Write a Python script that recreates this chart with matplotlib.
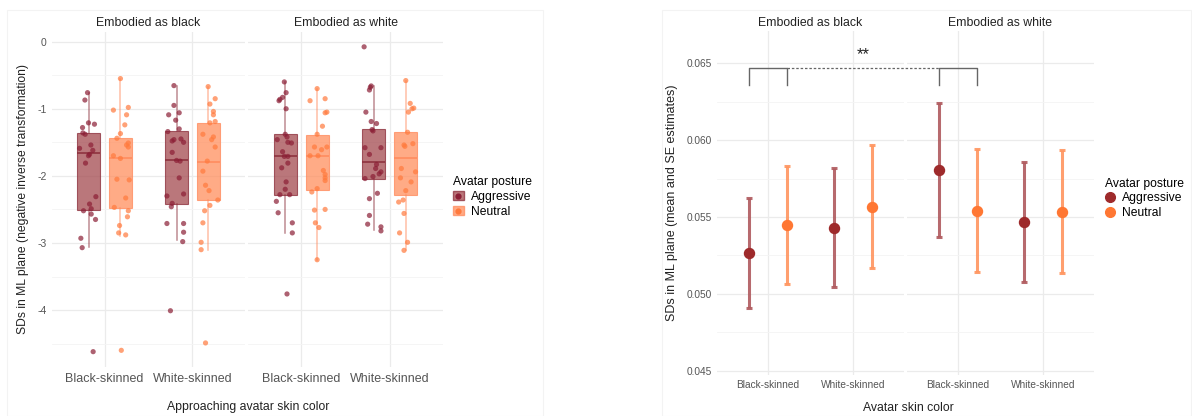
import matplotlib
matplotlib.use('Agg')
import matplotlib.pyplot as plt
from matplotlib.patches import Patch, Rectangle
from matplotlib.lines import Line2D

plt.rcParams['font.family'] = ['Liberation Sans', 'DejaVu Sans']

# ---------------- data ----------------
facets = ["Embodied as black", "Embodied as white"]
skin = ["Black-skinned", "White-skinned"]
postures = ["Aggressive", "Neutral"]

# Left panel: individual values (negative inverse transformation) and jitter offsets
eb_bs_agg = [-0.76, -0.87, -1.28, -1.21, -1.23, -1.36, -1.38, -1.59, -1.54, -1.62, -1.68,
             -1.70, -1.81, -2.31, -2.42, -2.52, -2.49, -2.57, -2.65, -2.93, -3.07, -4.62]
eb_bs_agg_jit = [-0.015, -0.045, -0.072, -0.004, 0.064, -0.068, -0.042, -0.106, 0.023, 0.045, 0.008,
                 -0.004, -0.038, 0.08, 0.008, -0.061, 0.027, 0.027, 0.076, -0.091, -0.076, 0.049]
eb_bs_neu = [-0.55, -1.02, -0.98, -1.09, -1.24, -1.37, -1.44, -1.51, -1.54, -1.57, -1.70,
             -1.74, -2.05, -2.06, -2.33, -2.47, -2.52, -2.61, -2.74, -2.85, -2.88, -4.60]
eb_bs_neu_jit = [0, -0.08, 0.09, 0.07, 0.05, 0, -0.04, 0.09, 0.07, 0.09, -0.08,
                 0, -0.04, 0.10, 0.06, -0.07, 0.09, 0.08, -0.01, -0.02, 0.06, 0.01]
eb_ws_agg = [-0.655, -0.95, -1.09, -1.06, -1.17, -1.30, -1.34, -1.46, -1.48, -1.45, -1.50, -1.65,
             -1.77, -1.78, -2.03, -2.30, -2.27, -2.41, -2.46, -2.71, -2.71, -2.84, -2.98, -4.01]
eb_ws_agg_jit = [-0.03, -0.03, -0.09, 0.03, -0.01, 0.03, -0.10, -0.03, -0.05, 0.05, 0.08, -0.05,
                 0.00, 0.04, 0.03, -0.11, 0.08, -0.05, -0.06, -0.11, 0.08, 0.08, 0.07, -0.07]
eb_ws_neu = [-0.67, -0.85, -0.93, -1.04, -1.09, -1.19, -1.21, -1.38, -1.42, -1.46, -1.57,
             -1.78, -1.93, -2.14, -2.22, -2.36, -2.44, -2.52, -2.70, -2.99, -3.10, -4.49]
eb_ws_neu_jit = [0.00, 0.08, 0.02, 0.06, 0.06, 0.08, 0.02, -0.06, 0.06, 0.04, 0.08,
                 -0.01, -0.06, -0.03, 0.01, 0.11, 0.02, -0.04, -0.06, -0.08, -0.08, -0.03]
ew_bs_agg = [-0.60, -0.76, -0.83, -0.88, -0.86, -1.00, -1.38, -1.46, -1.42, -1.50, -1.51, -1.71, -1.71,
             -1.64, -1.81, -1.88, -2.09, -2.20, -2.28, -2.28, -2.38, -2.55, -2.70, -2.85, -3.76]
ew_bs_agg_jit = [-0.01, 0.01, -0.03, -0.07, -0.06, 0.01, 0.00, -0.09, 0.02, 0.03, 0.07, 0.03, -0.01,
                 -0.03, 0.03, -0.04, 0.01, 0.00, -0.06, 0.05, -0.10, -0.08, 0.08, 0.08, 0.02]
ew_bs_neu = [-0.70, -0.88, -0.85, -1.06, -1.05, -1.26, -1.38, -1.57, -1.57, -1.61, -1.70, -1.70,
             -1.92, -1.98, -2.03, -2.07, -2.19, -2.24, -2.51, -2.50, -2.70, -2.77, -3.25]
ew_bs_neu_jit = [0, -0.08, 0.09, 0.09, 0.11, 0.06, 0, 0.11, -0.03, 0.05, -0.08, 0.01,
                 0.07, 0.09, 0.09, 0.09, 0, -0.06, -0.03, 0.09, -0.02, 0.02, 0]
ew_ws_agg = [-0.077, -0.66, -0.68, -0.72, -1.05, -1.19, -1.22, -1.31, -1.33, -1.58, -1.58, -1.68,
             -1.83, -1.89, -1.94, -1.97, -2.01, -2.04, -2.26, -2.34, -2.59, -2.72, -2.76, -2.82]
ew_ws_agg_jit = [-0.11, -0.03, -0.04, -0.05, -0.09, -0.03, 0.03, -0.02, -0.01, -0.10, 0.08, -0.05,
                 0.03, 0.02, 0.08, 0.06, -0.01, -0.10, 0.04, -0.05, -0.05, -0.07, 0.08, 0.08]
ew_ws_neu = [-0.58, -0.92, -1.05, -1.00, -0.99, -1.35, -1.54, -1.56, -1.52, -1.89,
             -2.03, -1.94, -2.09, -2.22, -2.39, -2.36, -2.56, -2.85, -2.99, -3.11]
ew_ws_neu_jit = [0.00, 0.05, 0.03, 0.07, 0.09, 0.02, -0.02, -0.01, 0.08, -0.05,
                 -0.06, 0.11, 0.06, 0.00, -0.08, -0.03, -0.02, -0.07, 0.02, -0.02]

# Box statistics: [lower whisker, Q1, median, Q3, upper whisker]
eb_bs_agg_box = [-3.06, -2.51, -1.665, -1.36, -0.76]
eb_bs_neu_box = [-2.89, -2.48, -1.73, -1.43, -0.55]
eb_ws_agg_box = [-2.96, -2.42, -1.765, -1.335, -0.655]
eb_ws_neu_box = [-3.10, -2.36, -1.80, -1.21, -0.67]
ew_bs_agg_box = [-2.85, -2.28, -1.71, -1.37, -0.60]
ew_bs_neu_box = [-3.25, -2.21, -1.70, -1.39, -0.70]
ew_ws_agg_box = [-2.81, -2.05, -1.80, -1.30, -0.66]
ew_ws_neu_box = [-3.11, -2.29, -1.73, -1.35, -0.58]

# Right panel: mean and SE interval (per facet, skin color: [Black-skinned, White-skinned])
eb_agg_mean = [0.05264, 0.05430]
eb_agg_lo = [0.04906, 0.05047]
eb_agg_hi = [0.05622, 0.05817]
eb_neu_mean = [0.05448, 0.05563]
eb_neu_lo = [0.05062, 0.05166]
eb_neu_hi = [0.05834, 0.05968]
ew_agg_mean = [0.05806, 0.05466]
ew_agg_lo = [0.05368, 0.05079]
ew_agg_hi = [0.06244, 0.05856]
ew_neu_mean = [0.05539, 0.05534]
ew_neu_lo = [0.05144, 0.05138]
ew_neu_hi = [0.05940, 0.05936]

sig_label = "**"

# ---------------- styling ----------------
AGG_PT = '#8B1E35'
AGG_FILL = '#A3494F'
AGG_EDGE = '#8B2D3A'
NEU_PT = '#FF7A3D'
NEU_FILL = '#FF8F5E'
NEU_EDGE = '#FF8A5C'
AGG_R = '#9E2A2B'
AGG_R_BAR = '#B05A5E'
NEU_R = '#FF7733'
NEU_R_BAR = '#FF955F'
TXT = '#222222'
TICK = '#555555'
GRID = '#EBEBEB'
GRID_MINOR = '#F4F4F4'

W, H = 1192, 416
fig = plt.figure(figsize=(W / 100, H / 100), dpi=100)
fig.patch.set_facecolor('white')


def ax_px(x0, x1, y0, y1):
    return fig.add_axes([x0 / W, 1 - y1 / H, (x1 - x0) / W, (y1 - y0) / H])


def to_fig(ax, x, y):
    d = ax.transData.transform((x, y))
    return fig.transFigure.inverted().transform(d)


# faint frames of the two composed images
fig.add_artist(Rectangle((7 / W, 0), (543 - 7) / W, 1 - 10 / H, transform=fig.transFigure,
                         fill=False, edgecolor='#F3F3F3', lw=0.8))
fig.add_artist(Rectangle((662 / W, 0), (1191 - 662) / W, 1 - 10 / H, transform=fig.transFigure,
                         fill=False, edgecolor='#F3F3F3', lw=0.8))


def style_axes(ax, ylim, yticks, yminor, show_ylabels, ytickfmt, xfs, yfs):
    ax.set_xlim(0.4, 2.6)
    ax.set_ylim(*ylim)
    for s in ax.spines.values():
        s.set_visible(False)
    ax.set_xticks([1, 2])
    ax.set_xticklabels(skin, fontsize=xfs, color=TICK)
    ax.set_yticks(yticks)
    ax.set_yticks(yminor, minor=True)
    if show_ylabels:
        ax.set_yticklabels([ytickfmt(v) for v in yticks], fontsize=yfs, color=TICK)
    else:
        ax.set_yticklabels([])
    ax.tick_params(axis='both', which='both', length=0)
    ax.tick_params(axis='x', pad=4)
    ax.tick_params(axis='y', pad=4)
    ax.grid(True, which='major', color=GRID, lw=0.9, zorder=0)
    ax.grid(True, which='minor', axis='y', color=GRID_MINOR, lw=0.6, zorder=0)
    ax.set_axisbelow(True)


# ---------------- left panel ----------------
left_groups = [
    [(eb_bs_agg, eb_bs_agg_jit, eb_bs_agg_box, eb_bs_neu, eb_bs_neu_jit, eb_bs_neu_box),
     (eb_ws_agg, eb_ws_agg_jit, eb_ws_agg_box, eb_ws_neu, eb_ws_neu_jit, eb_ws_neu_box)],
    [(ew_bs_agg, ew_bs_agg_jit, ew_bs_agg_box, ew_bs_neu, ew_bs_neu_jit, ew_bs_neu_box),
     (ew_ws_agg, ew_ws_agg_jit, ew_ws_agg_box, ew_ws_neu, ew_ws_neu_jit, ew_ws_neu_box)],
]

left_x = [(52, 245), (248, 443)]
DODGE_L = 0.18
BOXW = 0.26
yt_l = [0, -1, -2, -3, -4]
ym_l = [-0.5, -1.5, -2.5, -3.5, -4.5]


def mkstats(b):
    return dict(whislo=b[0], q1=b[1], med=b[2], q3=b[3], whishi=b[4], fliers=[])


for fi, (x0, x1) in enumerate(left_x):
    ax = ax_px(x0, x1, 31.6, 367.1)
    for ci, grp in enumerate(left_groups[fi]):
        xc = ci + 1
        vals_a, jit_a, box_a, vals_n, jit_n, box_n = grp
        for vals, jit, box, off, fill, edge, pt in [
                (vals_a, jit_a, box_a, -DODGE_L, AGG_FILL, AGG_EDGE, AGG_PT),
                (vals_n, jit_n, box_n, DODGE_L, NEU_FILL, NEU_EDGE, NEU_PT)]:
            ax.bxp([mkstats(box)], positions=[xc + off], widths=BOXW, patch_artist=True,
                   showfliers=False, showcaps=False, manage_ticks=False,
                   boxprops=dict(facecolor=fill, edgecolor=edge, alpha=0.75, lw=0.8),
                   whiskerprops=dict(color=edge, alpha=0.55, lw=1.1),
                   medianprops=dict(color=edge, lw=1.1), zorder=2)
            ax.scatter([xc + off + j for j in jit], vals, s=14, color=pt, alpha=0.7,
                       edgecolors='none', zorder=3)
    style_axes(ax, (-4.85, 0.15), yt_l, ym_l, fi == 0,
               lambda v: f"{int(v)}", 9, 7.5)
    ax.text(0.5, 1.0 + 8.5 / 335.5, facets[fi], transform=ax.transAxes, ha='center',
            va='center', fontsize=8.8, color=TXT)
    if fi == 0:
        ax.set_ylabel("SDs in ML plane (negative inverse transformation)", fontsize=8.7,
                      color=TXT, labelpad=6)

fig.text(248 / W, 1 - 407 / H, "Approaching avatar skin color", ha='center', va='center',
         fontsize=8.8, color=TXT)

h_agg = (Patch(facecolor=AGG_FILL, edgecolor=AGG_EDGE, alpha=0.75),
         Line2D([], [], marker='o', ls='', color=AGG_PT, ms=3.5))
h_neu = (Patch(facecolor=NEU_FILL, edgecolor=NEU_EDGE, alpha=0.75),
         Line2D([], [], marker='o', ls='', color=NEU_PT, ms=3.5))
fig.legend([h_agg, h_neu], postures, title="Avatar posture", loc='upper left',
           bbox_to_anchor=(453 / W, 1 - 176 / H), frameon=False, fontsize=8.7,
           title_fontsize=8.7, handlelength=0.9, handleheight=0.8, handletextpad=0.6,
           labelspacing=0.25, borderpad=0, borderaxespad=0, alignment='left')

# ---------------- right panel ----------------
right_x = [(717, 904), (907, 1094)]
DODGE_R = 0.22
yt_r = [0.045, 0.050, 0.055, 0.060, 0.065]
ym_r = [0.0475, 0.0525, 0.0575, 0.0625]
right_data = [
    [(eb_agg_mean, eb_agg_lo, eb_agg_hi), (eb_neu_mean, eb_neu_lo, eb_neu_hi)],
    [(ew_agg_mean, ew_agg_lo, ew_agg_hi), (ew_neu_mean, ew_neu_lo, ew_neu_hi)],
]
raxes = []
for fi, (x0, x1) in enumerate(right_x):
    ax = ax_px(x0, x1, 31.0, 374.5)
    style_axes(ax, (0.04475, 0.0671), yt_r, ym_r, fi == 0,
               lambda v: f"{v:.3f}", 7.3, 7.3)
    for pi, (m, lo, hi) in enumerate(right_data[fi]):
        off = -DODGE_R if pi == 0 else DODGE_R
        col = AGG_R if pi == 0 else NEU_R
        bcol = AGG_R_BAR if pi == 0 else NEU_R_BAR
        xs = [1 + off, 2 + off]
        yerr = [[m[i] - lo[i] for i in range(2)], [hi[i] - m[i] for i in range(2)]]
        ax.errorbar(xs, m, yerr=yerr, fmt='none', ecolor=bcol, elinewidth=2.2,
                    capsize=2.2, capthick=2.2, alpha=0.9, zorder=3)
        ax.plot(xs, m, 'o', color=col, ms=7.2, zorder=4)
    ax.text(0.5, 1.0 + 8.0 / 343.5, facets[fi], transform=ax.transAxes, ha='center',
            va='center', fontsize=8.8, color=TXT)
    if fi == 0:
        ax.set_ylabel("SDs in ML plane (mean and SE estimates)", fontsize=9,
                      color=TXT, labelpad=6)
    raxes.append(ax)

fig.text(908 / W, 1 - 408 / H, "Avatar skin color", ha='center', va='center',
         fontsize=8.8, color=TXT)

# significance bracket
y_top, y_bot = 0.06471, 0.06359
BR = '#666666'
for ax in raxes:
    xa, xb = 1 - DODGE_R, 1 + DODGE_R
    ax.plot([xa, xa, xb, xb], [y_bot, y_top, y_top, y_bot], color=BR, lw=1.0,
            clip_on=False, zorder=5)
p1 = to_fig(raxes[0], 1 + DODGE_R, y_top)
p2 = to_fig(raxes[1], 1 - DODGE_R, y_top)
fig.add_artist(Line2D([p1[0], p2[0]], [p1[1], p2[1]], transform=fig.transFigure,
                      color=BR, lw=0.9, ls=(0, (2, 1.5))))
fig.text((p1[0] + p2[0]) / 2, 1 - 55 / H, sig_label, ha='center', va='center',
         fontsize=12, color=TXT)

h_ra = Line2D([], [], marker='o', ls='', color=AGG_R, ms=7)
h_rn = Line2D([], [], marker='o', ls='', color=NEU_R, ms=7)
fig.legend([h_ra, h_rn], postures, title="Avatar posture", loc='upper left',
           bbox_to_anchor=(1105 / W, 1 - 178 / H), frameon=False, fontsize=8.7,
           title_fontsize=8.7, handlelength=0.8, handletextpad=0.6,
           labelspacing=0.2, borderpad=0, borderaxespad=0, alignment='left')

fig.savefig('out.png', dpi=100, facecolor='white')
